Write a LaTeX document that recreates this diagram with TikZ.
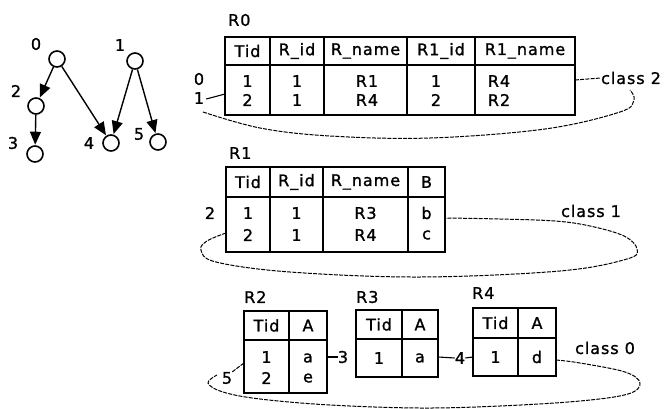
\documentclass[tikz,border=0pt]{standalone}
\usepackage{fontspec}
\setmainfont[LetterSpace=6,FakeBold=1.2]{DejaVu Sans}
\usetikzlibrary{arrows.meta}
\begin{document}
\begin{tikzpicture}[x=1pt,y=-1pt,
  tbl/.style={line width=1.4pt},
  cell/.style={inner sep=0pt,font=\fontsize{16}{16}\selectfont},
  lbl/.style={inner sep=0pt,font=\fontsize{16}{16}\selectfont},
  vnode/.style={circle,draw,line width=1.6pt,minimum size=16pt,inner sep=0pt},
  edge/.style={line width=1.4pt,-{Triangle[length=13pt,width=11pt]},shorten >=0.5pt},
  loopline/.style={line width=1pt,dash pattern=on 4pt off 1.2pt},
  tie/.style={line width=1.1pt}]
\useasboundingbox (0,0) rectangle (666,409);

% ---------- graph ----------
\node[vnode] (g0) at (57,59) {};
\node[vnode] (g1) at (135,61) {};
\node[vnode] (g2) at (36,106) {};
\node[vnode] (g3) at (35,154) {};
\node[vnode] (g4) at (111,143) {};
\node[vnode] (g5) at (158,142) {};
\node[lbl] (l0) at (36,44) {0};
\node[lbl] (l1) at (120,45) {1};
\node[lbl] (l2) at (16,91) {2};
\node[lbl] (l3) at (13,143) {3};
\node[lbl] (l4) at (89,143) {4};
\node[lbl] (l5) at (139,134) {5};
\draw[edge] (g0) -- (g2);
\draw[edge] (g0) -- (g4);
\draw[edge] (g1) -- (g4);
\draw[edge] (g1) -- (g5);
\draw[edge] (g2) -- (g3);

% ---------- R0 ----------
\node[lbl,anchor=west] (nR0) at (228,20) {R0};
\draw[tbl] (225,37) rectangle (575,115);
\draw[tbl] (225,65) -- (575,65);
\foreach \x in {270,324,407,475} \draw[tbl] (\x,37) -- (\x,115);
\node[cell] (a01) at (247.5,51) {Tid};
\node[cell] (a02) at (297,51) {R\_id};
\node[cell] (a03) at (365.5,51) {R\_name};
\node[cell] (a04) at (441,51) {R1\_id};
\node[cell] (a05) at (525,51) {R1\_name};
\node[cell] (a11) at (247.5,81) {1};
\node[cell] (a12) at (297,81) {1};
\node[cell] (a13) at (367,81) {R1};
\node[cell] (a14) at (436,81) {1};
\node[cell] (a15) at (499,81) {R4};
\node[cell] (a21) at (247.5,100) {2};
\node[cell] (a22) at (297,100) {1};
\node[cell] (a23) at (367,100) {R4};
\node[cell] (a24) at (436,100) {2};
\node[cell] (a25) at (499,100) {R2};
\node[lbl] (s0) at (199,79) {0};
\node[lbl] (s1) at (199,98) {1};
\coordinate (r0w) at (225,94);
\coordinate (r0e) at (575,80);
\draw[tie] (s1.east) ++(2,1) coordinate (s1e) (s1e) -- (r0w);
\node[lbl] (c2) at (631,78) {class 2};
\draw[loopline] (r0e) -- (c2.west);
\draw[loopline] plot[smooth,tension=0.6] coordinates {(203,112) (260,128) (330,136) (430,138) (545,129) (620,112) (634,100) (630,90)};

% ---------- R1 ----------
\node[lbl,anchor=west] (nR1) at (229,153) {R1};
\draw[tbl] (226,167) rectangle (445,252);
\draw[tbl] (226,197) -- (445,197);
\foreach \x in {270,323,408} \draw[tbl] (\x,167) -- (\x,252);
\node[cell] (b01) at (248,182) {Tid};
\node[cell] (b02) at (296.5,182) {R\_id};
\node[cell] (b03) at (365.5,182) {R\_name};
\node[cell] (b04) at (426.5,182) {B};
\node[cell] (b11) at (248,213) {1};
\node[cell] (b12) at (296.5,213) {1};
\node[cell] (b13) at (365.5,213) {R3};
\node[cell] (b14) at (426.5,213) {b};
\node[cell] (b21) at (248,235) {2};
\node[cell] (b22) at (296.5,235) {1};
\node[cell] (b23) at (365.5,235) {R4};
\node[cell] (b24) at (426.5,235) {c};
\node[lbl] (s2) at (210,213) {2};
\node[lbl] (c1) at (591,211) {class 1};
\draw[loopline] plot[smooth,tension=0.6] coordinates {(226,233) (207,241) (201,250) (216,262) (290,272) (420,277) (560,271) (627,259) (637,249) (624,236) (590,226) (555,221) (500,219) (446,218)};

% ---------- R2, R3, R4 ----------
\node[lbl,anchor=west] (nR2) at (244,297) {R2};
\draw[tbl] (244,311) rectangle (327,393);
\draw[tbl] (244,340) -- (327,340);
\draw[tbl] (289,311) -- (289,393);
\node[cell] (c01) at (266.5,325.5) {Tid};
\node[cell] (c02) at (308,325.5) {A};
\node[cell] (c11) at (266.5,357) {1};
\node[cell] (c12) at (308,358) {a};
\node[cell] (c21) at (266.5,378) {2};
\node[cell] (c22) at (308,378) {e};

\node[lbl,anchor=west] (nR3) at (356,297) {R3};
\draw[tbl] (356,310) rectangle (438,377);
\draw[tbl] (356,339) -- (438,339);
\draw[tbl] (402,310) -- (402,377);
\node[cell] (d01) at (379,324.5) {Tid};
\node[cell] (d02) at (420,324.5) {A};
\node[cell] (d11) at (379,358) {1};
\node[cell] (d12) at (420,358) {a};

\node[lbl,anchor=west] (nR4) at (472,293) {R4};
\draw[tbl] (473,308) rectangle (556,376);
\draw[tbl] (473,338) -- (556,338);
\draw[tbl] (518,308) -- (518,376);
\node[cell] (e01) at (495.5,323) {Tid};
\node[cell] (e02) at (537,323) {A};
\node[cell] (e11) at (495.5,357) {1};
\node[cell] (e12) at (537,357) {d};

\coordinate (r2e) at (327,357);
\coordinate (r3e) at (438,357);
\coordinate (r4w) at (473,357);
\coordinate (r2w) at (244,363);
\coordinate (r4e) at (556,360);
\node[lbl] (k3) at (343,357) {3};
\node[lbl] (k4) at (460,358) {4};
\node[lbl] (k5) at (227,378) {5};
\draw[tie] (r2e) -- (k3.west);
\draw[tie] (r3e) -- (k4.west);
\draw[tie] (k4.east) -- (r4w);
\draw[loopline] (k5.north east) -- (r2w);
\node[lbl] (c0) at (605,348) {class 0};
\draw[loopline] plot[smooth,tension=0.6] coordinates {(556,360) (580,363) (625,372) (640,383) (628,394) (580,401) (500,406) (420,408) (330,405) (260,399) (223,392) (208,383) (217,375)};
\end{tikzpicture}
\end{document}
